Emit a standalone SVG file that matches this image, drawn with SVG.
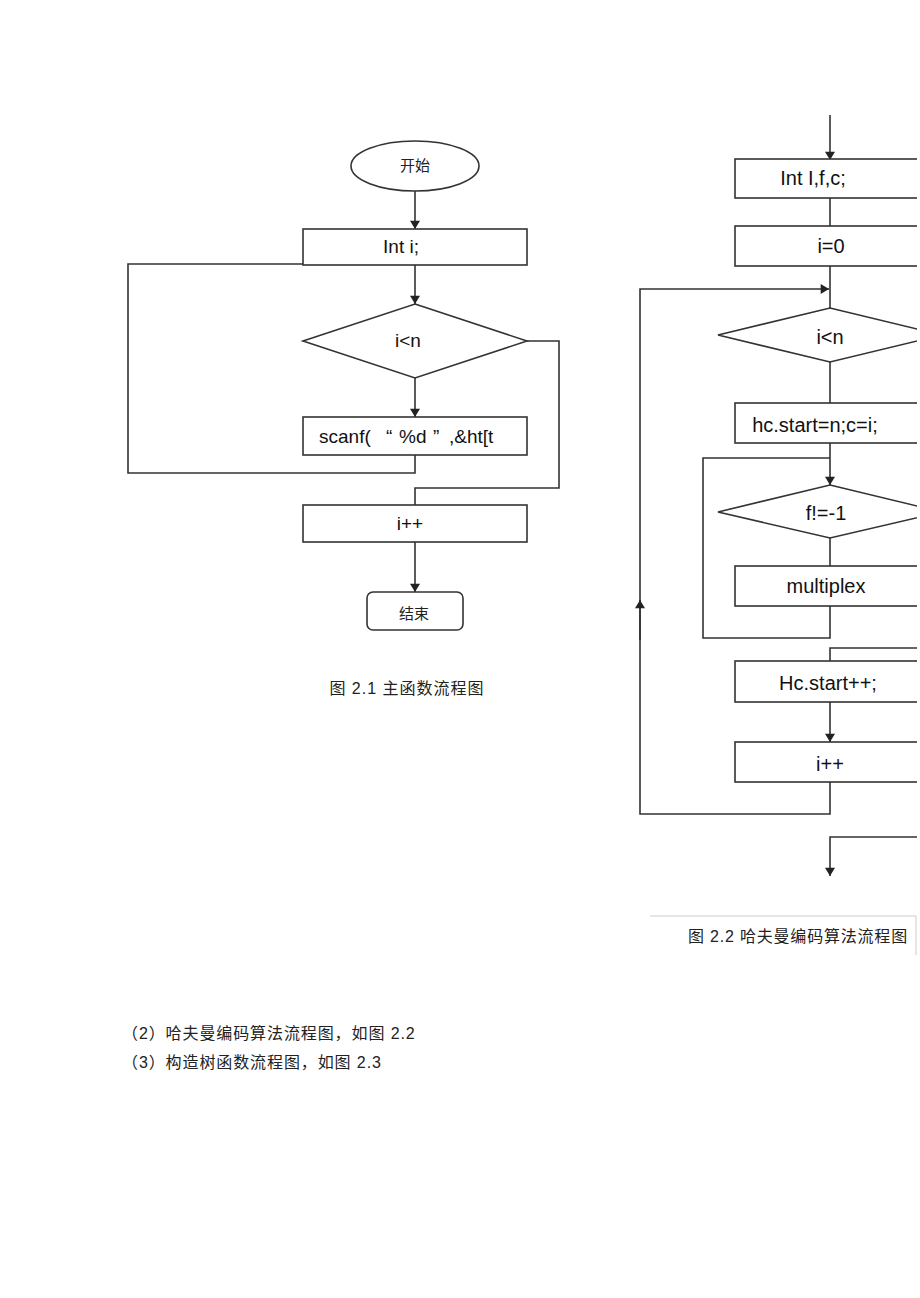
<svg xmlns="http://www.w3.org/2000/svg" width="920" height="1298" viewBox="0 0 920 1298">
<style>
.s{fill:#fff;stroke:#333;stroke-width:1.6}
.l{fill:none;stroke:#333;stroke-width:1.6}
.t{font-family:"Liberation Sans",Arial,sans-serif;font-size:19px;fill:#111;text-anchor:middle}
.st{text-anchor:start}
.r{font-size:20px}
.c{font-family:"Liberation Sans","Noto Sans CJK SC",sans-serif;font-size:15px;fill:#222;text-anchor:middle}
.p{font-family:"Liberation Sans","Noto Sans CJK SC",sans-serif;font-size:16px;fill:#222}
</style>
<defs>
<marker id="a" viewBox="0 0 10 12" refX="10" refY="6" markerWidth="12" markerHeight="10" markerUnits="userSpaceOnUse" orient="auto"><path d="M0,0L10,6L0,12z" fill="#222"/></marker>
<clipPath id="clip"><rect x="0" y="0" width="917" height="1298"/></clipPath>
</defs>
<rect width="920" height="1298" fill="#fff"/>

<g id="connectors">
<path class="l" d="M415,191V229" marker-end="url(#a)"/>
<path class="l" d="M415,265V304" marker-end="url(#a)"/>
<path class="l" d="M415,378V417" marker-end="url(#a)"/>
<path class="l" d="M303,264H128V473H415V455"/>
<path class="l" d="M527,341H559V488H415V505"/>
<path class="l" d="M415,542V592" marker-end="url(#a)"/>
<g clip-path="url(#clip)">
<path class="l" d="M830,115V160" marker-end="url(#a)"/>
<path class="l" d="M830,198V226"/>
<path class="l" d="M830,266V308"/>
<path class="l" d="M830,782V814H640V289H829" marker-end="url(#a)"/>
<path class="l" d="M640,640V600" marker-end="url(#a)"/>
<path class="l" d="M830,362V403"/>
<path class="l" d="M830,443V485" marker-end="url(#a)"/>
<path class="l" d="M830,538V566"/>
<path class="l" d="M830,606V638H703V458H830"/>
<path class="l" d="M930,648H830V661"/>
<path class="l" d="M830,702V742" marker-end="url(#a)"/>
<path class="l" d="M930,837H830V876" marker-end="url(#a)"/>
</g>
</g>

<g id="start"><ellipse class="s" cx="415" cy="166" rx="64" ry="25"/><text class="c" x="415" y="171">开始</text></g>
<g id="inti"><rect class="s" x="303" y="229" width="224" height="36" stroke-width="2.4"/><text class="t" x="401" y="253">Int i;</text></g>
<g id="cond1"><path class="s" d="M415,304L527,341L415,378L303,341z"/><text class="t" x="408" y="347">i&lt;n</text></g>
<g id="scanf"><rect class="s" x="303" y="417" width="224" height="38"/><text class="t st" y="443"><tspan x="319">scanf(</tspan><tspan x="386">“</tspan><tspan x="399">%d</tspan><tspan x="433">”</tspan><tspan x="449">,&amp;ht[t</tspan></text></g>
<g id="inc1"><rect class="s" x="303" y="505" width="224" height="37"/><text class="t" x="410" y="530">i++</text></g>
<g id="end"><rect class="s" x="367" y="592" width="96" height="38" rx="6"/><text class="c" x="414" y="619" font-size="18">结束</text></g>
<text id="cap1" class="p" x="407" y="694" text-anchor="middle" letter-spacing="1">图 2.1 主函数流程图</text>

<g clip-path="url(#clip)">
<g id="decl"><rect class="s" x="735" y="159" width="210" height="39"/><text class="t r" x="813" y="185">Int I,f,c;</text></g>
<g id="init"><rect class="s" x="735" y="226" width="210" height="40"/><text class="t r" x="831" y="253">i=0</text></g>
<g id="cond2"><path class="s" d="M830,308L942,335L830,362L718,335z"/><text class="t r" x="830" y="344">i&lt;n</text></g>
<g id="hcstart"><rect class="s" x="735" y="403" width="210" height="40"/><text class="t r" x="815" y="432">hc.start=n;c=i;</text></g>
<g id="cond3"><path class="s" d="M830,485L942,512L830,538L718,512z"/><text class="t r" x="826" y="520">f!=-1</text></g>
<g id="mux"><rect class="s" x="735" y="566" width="210" height="40"/><text class="t r" x="826" y="593">multiplex</text></g>
<g id="hcinc"><rect class="s" x="735" y="661" width="210" height="41"/><text class="t r" x="828" y="690">Hc.start++;</text></g>
<g id="inc2"><rect class="s" x="735" y="742" width="210" height="40"/><text class="t r" x="830" y="771">i++</text></g>
</g>
<g id="cap2">
<path d="M650,916H916V955" fill="none" stroke="#ccc" stroke-width="1"/>
<text class="p" x="798" y="942" text-anchor="middle" letter-spacing="0.8">图 2.2 哈夫曼编码算法流程图</text>
</g>
<text class="p" x="122" y="1039" letter-spacing="0.9">（2）哈夫曼编码算法流程图，如图 2.2</text>
<text class="p" x="122" y="1068" letter-spacing="0.9">（3）构造树函数流程图，如图 2.3</text>
</svg>
